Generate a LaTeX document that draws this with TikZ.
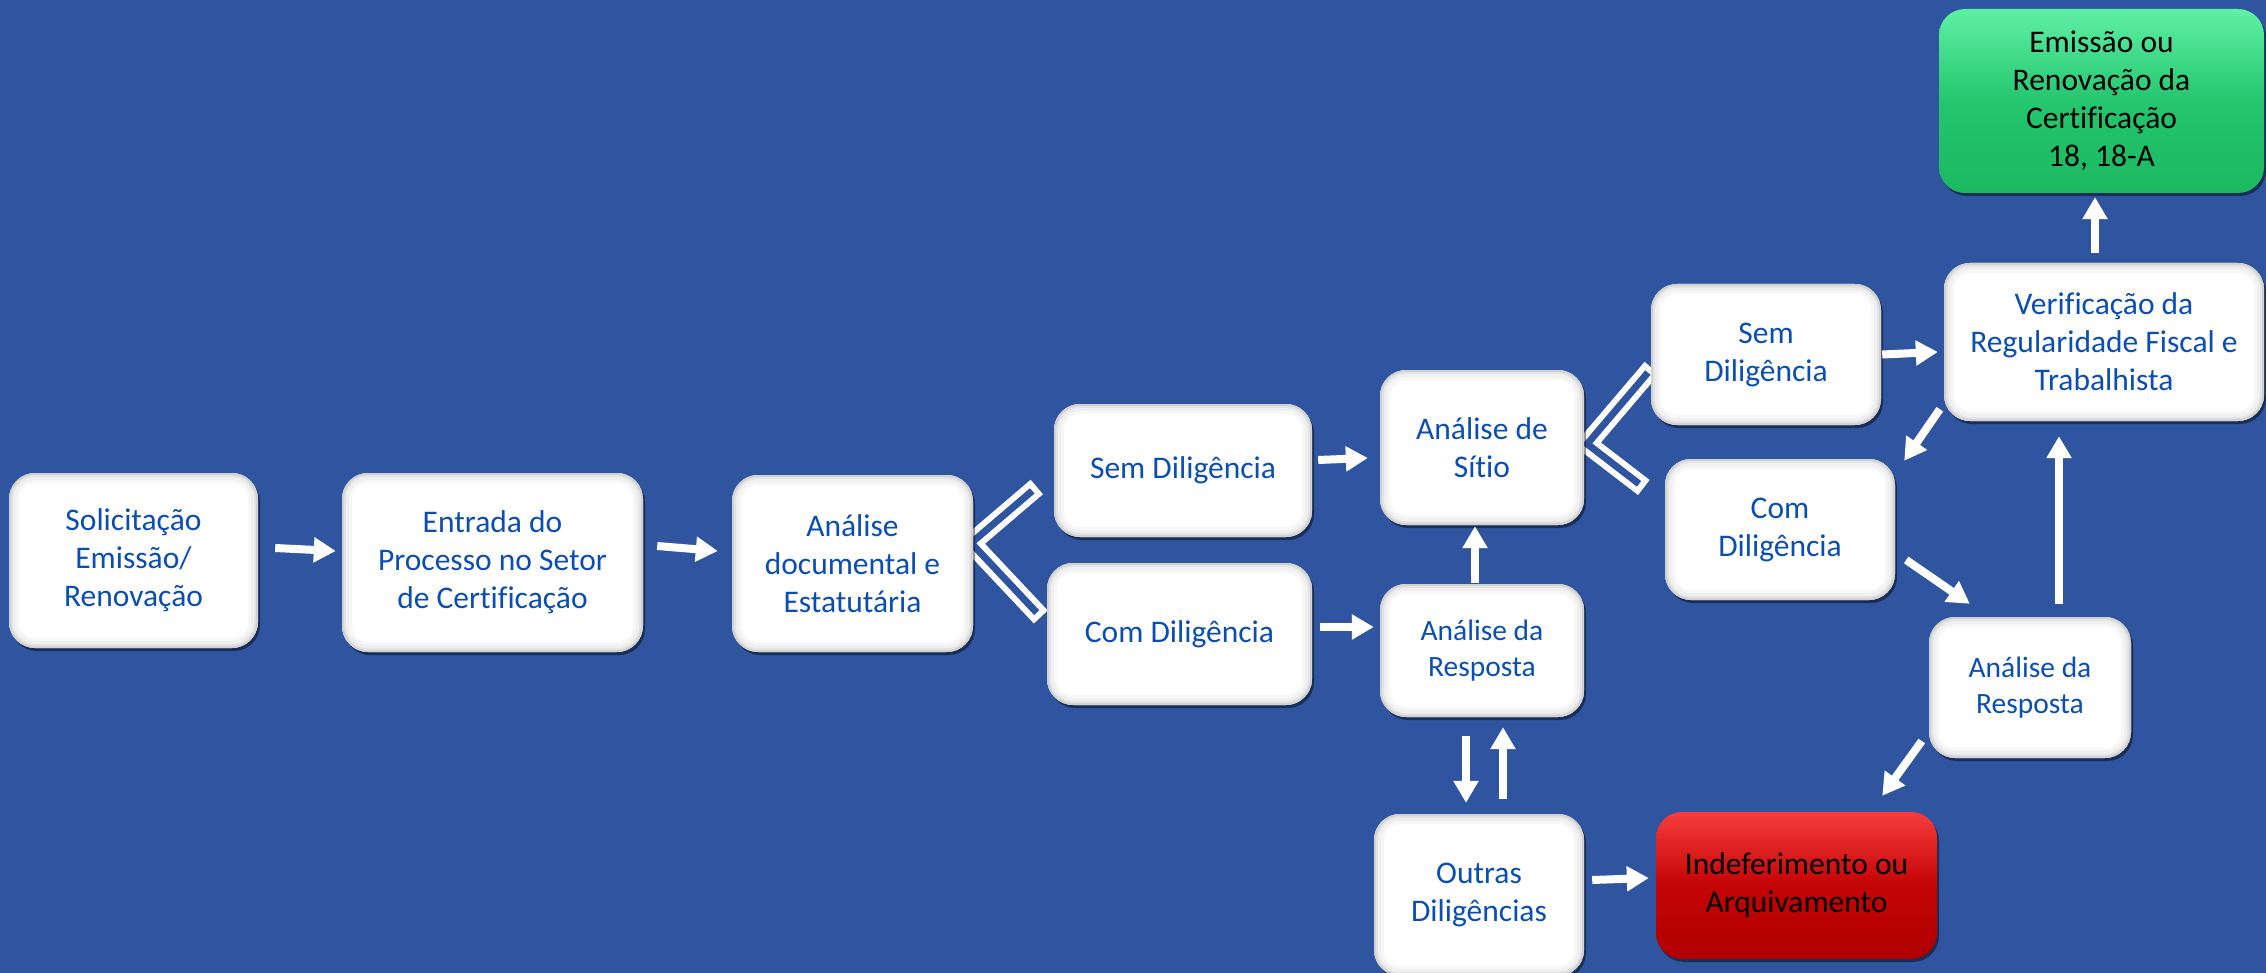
\documentclass[tikz,border=0pt]{standalone}
\usepackage{fontspec}
\setmainfont{Carlito}[Ligatures=NoCommon]
\usetikzlibrary{arrows.meta,shadows,calc}
\definecolor{bgblue}{RGB}{47,85,160}
\definecolor{txtblue}{RGB}{10,78,180}
\definecolor{grnT}{RGB}{95,240,165}
\definecolor{grnM}{RGB}{36,198,110}
\definecolor{grnB}{RGB}{28,184,96}
\definecolor{redT}{RGB}{245,60,60}
\definecolor{redM}{RGB}{196,4,4}
\definecolor{redB}{RGB}{176,0,0}
\pgfdeclarelayer{back}
\pgfsetlayers{back,main}
\tikzset{
  boxbase/.style={rounded corners=26pt, inner sep=0pt, align=center,
    font=\fontsize{31.5}{38}\selectfont,
    drop shadow={shadow xshift=2pt, shadow yshift=-3pt, opacity=0.45, fill=black}},
  wbox/.style={boxbase, fill=white, text=txtblue,
    path picture={
      \foreach \d/\c/\r in {0/18/26,2/11/24,4/6/22,7/3/19,10/0/16}{
        \fill[black!\c!white, rounded corners=\r pt]
          ([shift={(\d pt,-\d pt)}]path picture bounding box.north west) rectangle
          ([shift={(-\d pt,\d pt)}]path picture bounding box.south east);
      }}},
  gbox/.style={boxbase, top color=grnT, bottom color=grnB, middle color=grnM, text=black},
  rbox/.style={boxbase, top color=redT, bottom color=redB, middle color=redM, text=black},
  smalltext/.style={font=\fontsize{29.5}{36}\selectfont},
  arr/.style={draw=white, line width=8pt, -{Triangle[width=24pt,length=22pt]}},
  forkout/.style={draw=white, line width=19pt, line join=miter, miter limit=10},
  forkin/.style={draw=bgblue, line width=7pt, line join=miter, miter limit=10, shorten <=6pt, shorten >=6pt},
}
\begin{document}
\begin{tikzpicture}[x=1pt,y=-1pt]
\useasboundingbox (0,0) rectangle (2266,973);
% nodes
\node[wbox, minimum width=249pt, minimum height=175pt] (sol) at (133.5,560.5) {Solicitação\\Emissão/\\Renovação};
\node[wbox, minimum width=301pt, minimum height=179pt] (ent) at (492.5,562.5) {Entrada do\\Processo no Setor\\de Certificação};
\node[wbox, minimum width=241pt, minimum height=177pt] (adoc) at (852.5,563.5) {Análise\\documental e\\Estatutária};
\node[wbox, minimum width=258pt, minimum height=133pt] (sem1) at (1183,470.5) {Sem Diligência};
\node[wbox, minimum width=265pt, minimum height=142pt] (com1) at (1179.5,634) {Com Diligência};
\node[wbox, minimum width=204pt, minimum height=155pt] (sitio) at (1482,447.5) {Análise de\\Sítio};
\node[wbox, smalltext, minimum width=204pt, minimum height=133pt] (resp1) at (1482,650.5) {Análise da\\Resposta};
\node[wbox, minimum width=210pt, minimum height=162pt] (outras) at (1479,895) {Outras\\Diligências};
\node[rbox, minimum width=281pt, minimum height=147pt] (indef) at (1796.5,885.5) {Indeferimento ou\\Arquivamento};
\node[wbox, minimum width=230pt, minimum height=141pt] (sem2) at (1766,354.5) {Sem\\Diligência};
\node[wbox, minimum width=230pt, minimum height=141pt] (com2) at (1780,529.5) {Com\\Diligência};
\node[wbox, minimum width=320pt, minimum height=158pt] (verif) at (2104,342) {Verificação da\\Regularidade Fiscal e\\Trabalhista};
\node[wbox, smalltext, minimum width=202pt, minimum height=141pt] (resp2) at (2030,687.5) {Análise da\\Resposta};
\node[gbox, minimum width=325pt, minimum height=184pt] (emis) at (2101.5,101) {Emissão ou\\Renovação da\\Certificação\\18, 18-A};
% fork coordinates
\coordinate (V1) at ([shift={(-2,-20.5)}]adoc.east);
\coordinate (U1) at ([shift={(-17,16.5)}]sem1.west);
\coordinate (L1) at ([shift={(-6,-17)}]com1.west);
\coordinate (V2) at ([shift={(3,-3.5)}]sitio.east);
\coordinate (U2) at ([shift={(1,13.5)}]sem2.west);
\coordinate (L2) at ([shift={(-21,-42)}]com2.west);
\begin{pgfonlayer}{back}
\fill[bgblue] (0,0) rectangle (2266,973);
\draw[forkout] (U1) -- (V1) -- (L1);
\draw[forkin] (U1) -- (V1) -- (L1);
\draw[forkout] (U2) -- (V2) -- (L2);
\draw[forkin] (U2) -- (V2) -- (L2);
\end{pgfonlayer}
% arrows
\draw[arr] ([shift={(17,-12.5)}]sol.east) -- ([shift={(-6,-11.5)}]ent.west);
\draw[arr] ([shift={(14,-16.5)}]ent.east) -- ([shift={(-14,-12.5)}]adoc.west);
\draw[arr] ([shift={(6,-10.5)}]sem1.east) -- ([shift={(-12,10.5)}]sitio.west);
\draw[arr] ([shift={(8,-7)}]com1.east) -- ([shift={(-6,-23.5)}]resp1.west);
\draw[arr] ([shift={(-7,-1)}]resp1.north) -- ([shift={(-7,1)}]sitio.south);
\draw[arr] ([shift={(-16,19)}]resp1.south) -- ([shift={(-13,-11)}]outras.north);
\draw[arr] ([shift={(24,-15)}]outras.north) -- ([shift={(21,10)}]resp1.south);
\draw[arr] ([shift={(8,-15)}]outras.east) -- ([shift={(-7,-7.5)}]indef.west);
\draw[arr] ([shift={(-7,53.5)}]resp2.west) -- ([shift={(-55,-16)}]indef.north east);
\draw[arr] ([shift={(1,0)}]sem2.east) -- ([shift={(-6,10)}]verif.west);
\draw[arr] ([shift={(-4,-12)}]verif.south west) -- ([shift={(9,2)}]com2.north east);
\draw[arr] ([shift={(11,30.5)}]com2.east) -- ([shift={(41,-13)}]resp2.north west);
\draw[arr] ([shift={(29,-13)}]resp2.north) -- ([shift={(-45,15)}]verif.south);
\draw[arr] ([shift={(-9,-10)}]verif.north) -- ([shift={(-6.5,4)}]emis.south);
\end{tikzpicture}
\end{document}
